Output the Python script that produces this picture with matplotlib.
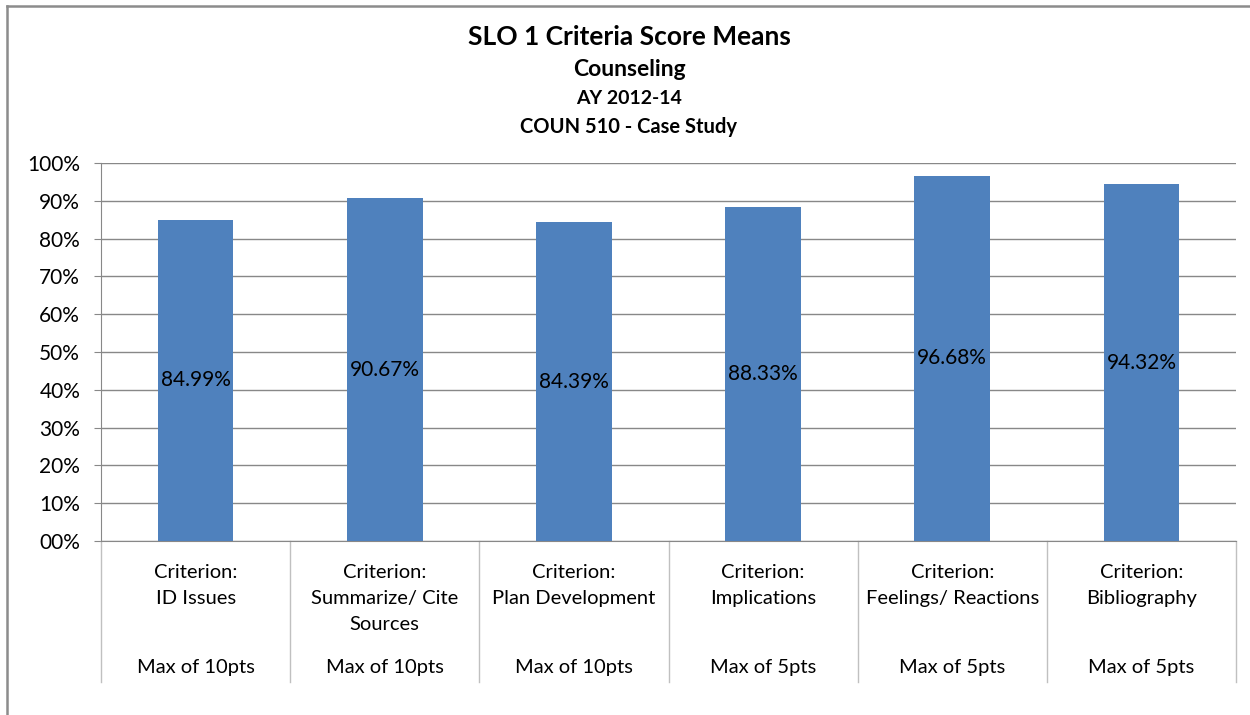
import matplotlib.pyplot as plt
from matplotlib.lines import Line2D
from matplotlib.transforms import blended_transform_factory

criteria = ["ID Issues", "Summarize/ Cite\nSources", "Plan Development",
            "Implications", "Feelings/ Reactions", "Bibliography"]
max_points = ["Max of 10pts", "Max of 10pts", "Max of 10pts",
              "Max of 5pts", "Max of 5pts", "Max of 5pts"]
score_means = [84.99, 90.67, 84.39, 88.33, 96.68, 94.32]
y_ticks = [0, 10, 20, 30, 40, 50, 60, 70, 80, 90, 100]
y_tick_labels = ["00%", "10%", "20%", "30%", "40%", "50%",
                 "60%", "70%", "80%", "90%", "100%"]

plt.rcParams["font.family"] = ["Lato", "DejaVu Sans"]

W, H = 1250, 715
fig = plt.figure(figsize=(W / 100, H / 100), dpi=100)
grid_col = "#888888"
sep_col = "#c0c0c0"

# outer chart border (only top and left edges fall inside the image)
bx, by = 6.5 / W, 1 - 6 / H
fig.add_artist(Line2D([bx, 1], [by, by], transform=fig.transFigure,
                      color="#8c8c8c", linewidth=1.8))
fig.add_artist(Line2D([bx, bx], [by, 0], transform=fig.transFigure,
                      color="#8c8c8c", linewidth=1.8))

left, right, top, bottom = 101, 1236, 163, 541
ax = fig.add_axes([left / W, 1 - bottom / H, (right - left) / W, (bottom - top) / H])

x = list(range(len(criteria)))
ax.bar(x, score_means, width=0.4, color="#4F81BD", zorder=3)
for xi, v in zip(x, score_means):
    ax.text(xi, v / 2, f"{v:.2f}%", ha="center", va="center", fontsize=15, zorder=4)

ax.set_xlim(-0.5, len(criteria) - 0.5)
ax.set_ylim(0, 100)
ax.set_yticks(y_ticks)
ax.set_yticklabels(y_tick_labels, fontsize=15)
ax.yaxis.grid(True, color=grid_col, linewidth=1)
ax.set_axisbelow(True)
ax.tick_params(axis="y", length=5, color=grid_col, pad=10)
ax.set_xticks([])
for s in ["top", "right"]:
    ax.spines[s].set_visible(False)
ax.spines["left"].set_color(grid_col)
ax.spines["bottom"].set_color(grid_col)

# category separators below the axis
sep_depth = (682 - bottom) / (bottom - top)
trans = blended_transform_factory(ax.transData, ax.transAxes)
for b in [i - 0.5 for i in range(len(criteria) + 1)]:
    ax.plot([b, b], [0, -sep_depth], transform=trans, color=sep_col,
            linewidth=1, clip_on=False)

line_h = 26.5 / (bottom - top)
for xi, name, mx in zip(x, criteria, max_points):
    lines = ["Criterion:"] + name.split("\n")
    for k, t in enumerate(lines):
        ax.text(xi, -(572 - bottom) / (bottom - top) - k * line_h, t, transform=trans,
                ha="center", va="center", fontsize=14.5)
    ax.text(xi, -(668 - bottom) / (bottom - top), mx, transform=trans,
            ha="center", va="center", fontsize=14.5)

fig.text(629 / W, 1 - 37 / H, "SLO 1 Criteria Score Means", ha="center", va="center",
         fontsize=19, fontweight="bold")
fig.text(629 / W, 1 - 70 / H, "Counseling", ha="center", va="center",
         fontsize=16.5, fontweight="bold")
fig.text(629 / W, 1 - 99 / H, "AY 2012-14", ha="center", va="center",
         fontsize=14, fontweight="bold")
fig.text(629 / W, 1 - 127 / H, "COUN 510 - Case Study", ha="center", va="center",
         fontsize=14.5, fontweight="bold")

fig.savefig("out.png", dpi=100)
